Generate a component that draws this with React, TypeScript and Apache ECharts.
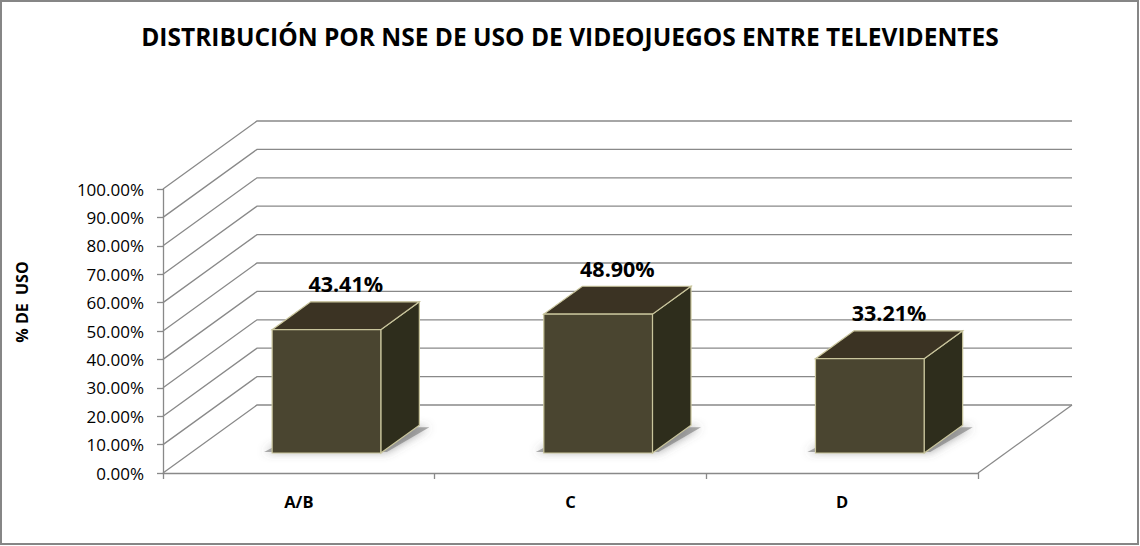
import React, { useEffect, useRef } from "react";
import * as echarts from "echarts";

const titleText = "DISTRIBUCIÓN POR NSE DE USO DE VIDEOJUEGOS ENTRE TELEVIDENTES";
const yAxisName = "% DE  USO";
const categories = ["A/B", "C", "D"];
const values = [0.4341, 0.489, 0.3321];
const yTicks = [0, 0.1, 0.2, 0.3, 0.4, 0.5, 0.6, 0.7, 0.8, 0.9, 1.0];

const DX = 94;
const DY = -68;
const FONT = "'Open Sans', sans-serif";
const GRID_COLOR = "#898989";

const pct = (v: number) => (v * 100).toFixed(2) + "%";

export default function App() {
  const ref = useRef<HTMLDivElement>(null);
  useEffect(() => {
    document.body.style.margin = "0";
    const chart = echarts.init(ref.current!, null, { renderer: "svg" });
    const option: any = {
      animation: false,
      backgroundColor: "#ffffff",
      textStyle: { fontFamily: FONT },
      title: {
        text: titleText,
        left: "center",
        top: 19,
        textStyle: { fontFamily: FONT, fontWeight: "bold", fontSize: 24.5, color: "#000" },
      },
      graphic: [
        {
          type: "rect",
          shape: { x: 1, y: 1, width: 1137, height: 543 },
          style: { fill: "none", stroke: "#868686", lineWidth: 2 },
          silent: true,
        },
        {
          type: "text",
          x: 22,
          y: 302,
          rotation: Math.PI / 2,
          style: {
            text: yAxisName,
            fontFamily: FONT,
            fontWeight: "bold",
            fontSize: 16,
            fill: "#000",
            align: "center",
            verticalAlign: "middle",
          },
          silent: true,
        },
      ],
      grid: { left: 163, top: 189, width: 815, height: 284 },
      xAxis: {
        type: "category",
        data: categories,
        boundaryGap: true,
        axisLine: { show: true, lineStyle: { color: GRID_COLOR, width: 1.3 } },
        axisTick: { show: true, length: 6, interval: 0, lineStyle: { color: GRID_COLOR, width: 1.3 } },
        axisLabel: {
          margin: 20,
          fontFamily: FONT,
          fontWeight: "bold",
          fontSize: 16.5,
          color: "#000",
        },
      },
      yAxis: {
        type: "value",
        min: 0,
        max: 1,
        interval: 0.1,
        axisLine: { show: true, lineStyle: { color: GRID_COLOR, width: 1.3 } },
        axisTick: { show: true, length: 6, lineStyle: { color: GRID_COLOR, width: 1.3 } },
        splitLine: { show: false },
        axisLabel: {
          margin: 19,
          fontFamily: FONT,
          fontSize: 17,
          color: "#000",
          formatter: (v: number) => pct(v),
        },
      },
      series: [
        {
          type: "custom",
          silent: true,
          z: 1,
          data: yTicks.map((v) => [0, v]),
          renderItem: (params: any, api: any) => {
            const v = api.value(1);
            const p = api.coord([0, v]);
            const cs = params.coordSys;
            const x0 = cs.x;
            const x1 = cs.x + cs.width;
            const y = p[1];
            const children: any[] = [
              {
                type: "polyline",
                shape: { points: [[x0, y], [x0 + DX, y + DY], [x1 + DX, y + DY]] },
                style: { stroke: GRID_COLOR, lineWidth: 1.3, fill: "none" },
              },
            ];
            if (v === 0) {
              children.push({
                type: "line",
                shape: { x1: x1, y1: y, x2: x1 + DX, y2: y + DY },
                style: { stroke: GRID_COLOR, lineWidth: 1.3 },
              });
            }
            return { type: "group", children };
          },
        },
        {
          type: "custom",
          silent: true,
          z: 5,
          data: values.map((v, i) => [i, v]),
          renderItem: (params: any, api: any) => {
            const i = api.value(0);
            const v = api.value(1);
            const base = api.coord([i, 0]);
            const top = api.coord([i, v]);
            const catW = api.size([1, 0])[0];
            const bw = catW * 0.4;
            const fx = DX * 0.294;
            const fy = DY * 0.294;
            const bx = DX * 0.41;
            const by = DY * 0.41;
            const xl = base[0] - bw / 2 + fx;
            const xr = xl + bw;
            const yb = base[1] + fy;
            const yt = top[1] + fy;
            const border = "#c9c59c";
            return {
              type: "group",
              children: [
                {
                  type: "polygon",
                  shape: {
                    points: [
                      [xl - 8, yb - 1],
                      [xr + 6, yb - 1],
                      [xr + bx + 10, yb + by + 2],
                      [xl + bx, yb + by + 2],
                    ],
                  },
                  style: {
                    fill: "rgba(120,120,120,0.6)",
                    shadowBlur: 10,
                    shadowColor: "rgba(90,90,90,0.9)",
                  },
                },
                {
                  type: "polygon",
                  shape: { points: [[xr, yt], [xr + bx, yt + by], [xr + bx, yb + by], [xr, yb]] },
                  style: { fill: "#2e2d1c", stroke: border, lineWidth: 1.2 },
                },
                {
                  type: "polygon",
                  shape: { points: [[xl, yt], [xr, yt], [xr + bx, yt + by], [xl + bx, yt + by]] },
                  style: { fill: "#3b3323", stroke: border, lineWidth: 1.2 },
                },
                {
                  type: "rect",
                  shape: { x: xl, y: yt, width: bw, height: yb - yt },
                  style: { fill: "#4a4530", stroke: border, lineWidth: 1.2 },
                },
                {
                  type: "text",
                  x: (xl + xr) / 2 + bx / 2,
                  y: yt + by - 18,
                  style: {
                    text: pct(v),
                    fontFamily: FONT,
                    fontWeight: "bold",
                    fontSize: 21.5,
                    fill: "#000",
                    align: "center",
                    verticalAlign: "middle",
                  },
                },
              ],
            };
          },
        },
      ],
    };
    chart.setOption(option);
    return () => chart.dispose();
  }, []);
  return (
    <div
      ref={ref}
      style={{ position: "fixed", left: 0, top: 0, width: 1140, height: 546 }}
    />
  );
}
